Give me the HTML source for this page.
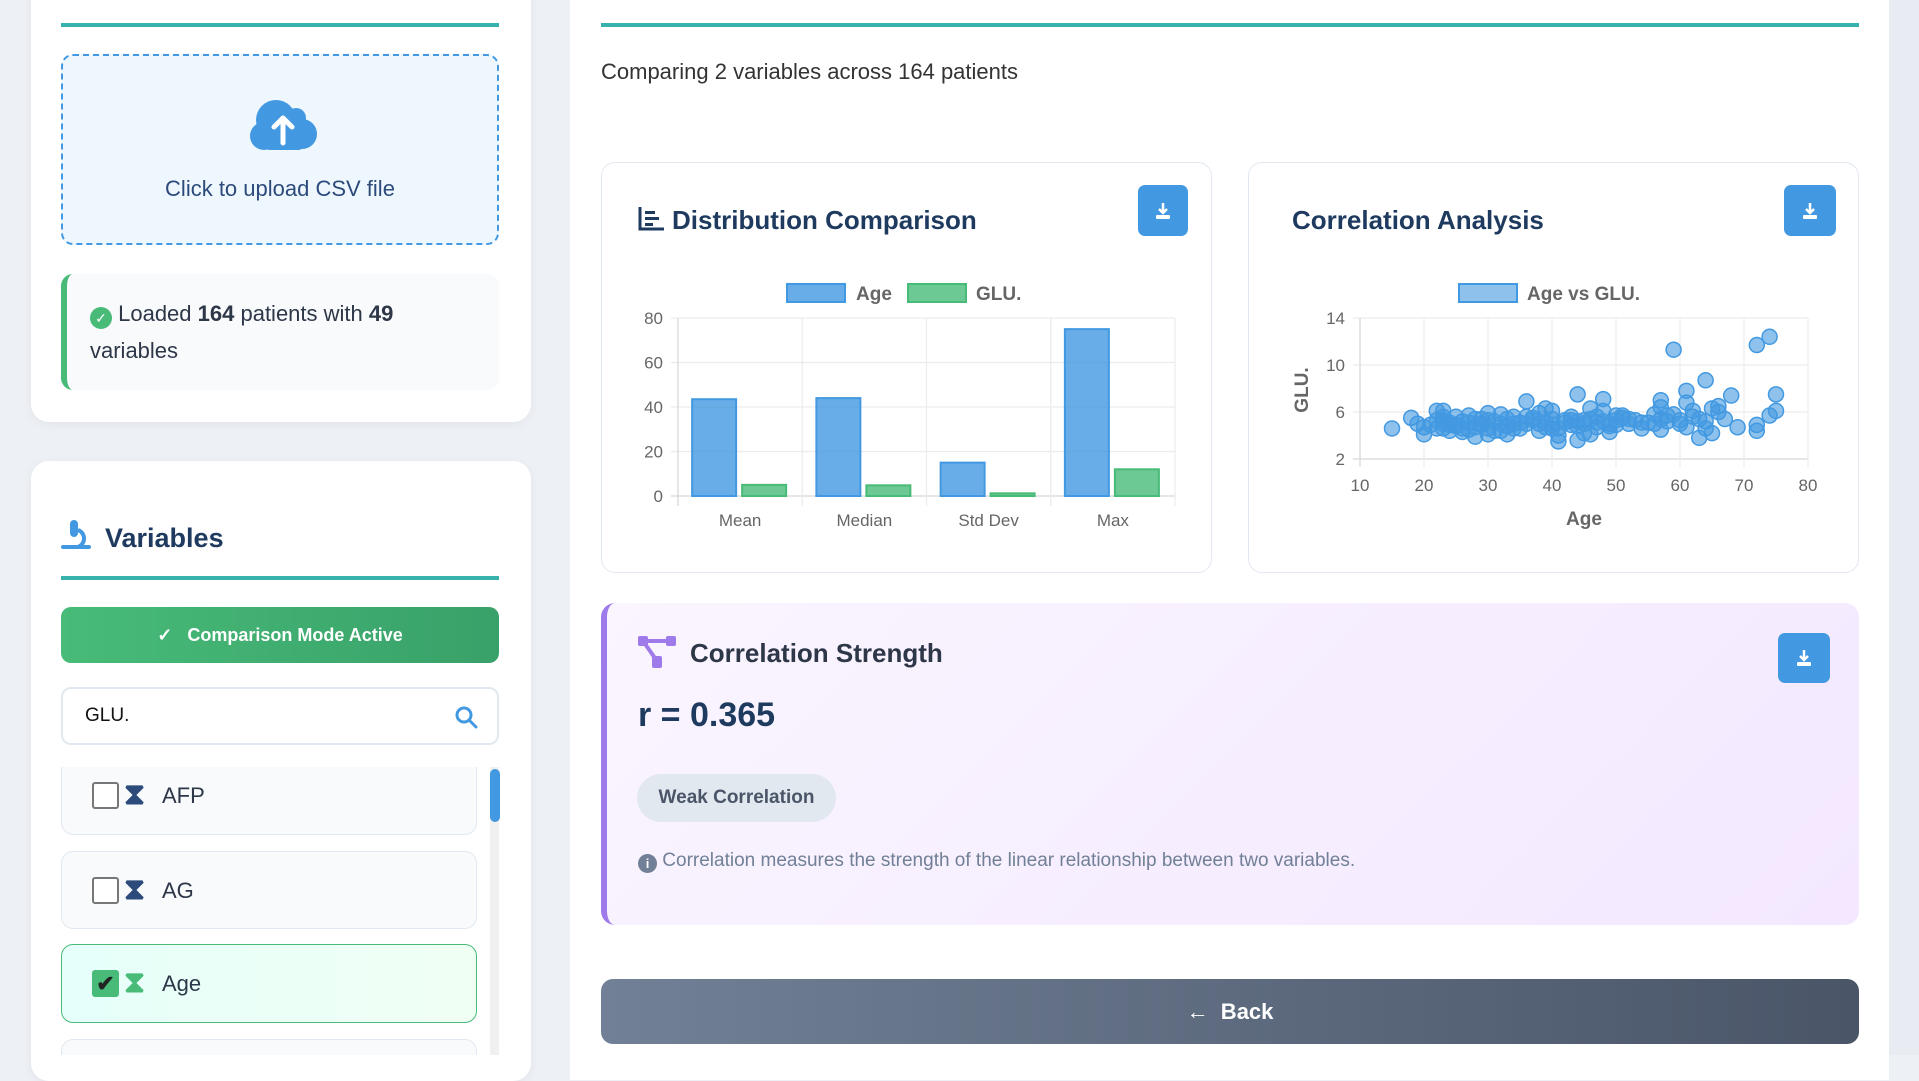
<!DOCTYPE html>
<html><head><meta charset="utf-8"><style>
*{box-sizing:border-box;margin:0;padding:0}
body{width:1919px;height:1055px;overflow:hidden;background:#edf0f5;font-family:"Liberation Sans",sans-serif;position:relative}
.abs{position:absolute}
.card{position:absolute;background:#fff;border-radius:18px;box-shadow:0 2px 10px rgba(0,0,0,0.05)}
.teal{position:absolute;height:4px;background:#38b2ac}
.dl{position:absolute;background:#4299e1;border-radius:7px;display:flex;align-items:center;justify-content:center}
.item{position:absolute;left:61px;width:416px;background:#f8fafc;border:1px solid #e2e8f0;border-radius:12px}
.cb{position:absolute;left:30px;width:27px;height:27px;border:2px solid #777;border-radius:3px;background:#fff}
.lbl{position:absolute;left:100px;font-size:22px;color:#2d3748}
.dna{position:absolute;left:62px;font-size:30px;font-weight:bold;line-height:30px}
</style></head><body>
<div class="card" style="left:31px;top:-20px;width:500px;height:442px"></div>
<div class="teal" style="left:61px;top:23px;width:438px"></div>
<div class="abs" style="left:61px;top:54px;width:438px;height:191px;border:2px dashed #4299e1;border-radius:12px;background:#eef7fe">
 <svg class="abs" style="left:183px;top:40px" width="74" height="60" viewBox="0 0 74 60"><g fill="#4299e1"><circle cx="30" cy="24" r="20"/><circle cx="50" cy="22" r="10"/><circle cx="56" cy="38" r="15"/><circle cx="18" cy="40" r="14"/><rect x="18" y="30" width="40" height="24" rx="6"/></g><path d="M37 47V22M28 31l9-9 9 9" stroke="#fff" stroke-width="5" fill="none" stroke-linecap="round" stroke-linejoin="round"/></svg>
 <div class="abs" style="left:0;width:434px;top:120px;text-align:center;font-size:22px;color:#2c4a7a">Click to upload CSV file</div>
</div>
<div class="abs" style="left:61px;top:274px;width:438px;height:116px;background:#f8fafc;border-left:6px solid #48bb78;border-radius:12px">
 <div class="abs" style="left:23px;top:21px;font-size:22px;line-height:37px;color:#2d3748;width:340px"><span style="display:inline-block;width:22px;height:22px;border-radius:50%;background:#48bb78;color:#fff;font-size:14px;text-align:center;line-height:22px;vertical-align:-2px">✓</span> Loaded <b>164</b> patients with <b>49</b> variables</div>
</div>

<div class="card" style="left:31px;top:461px;width:500px;height:620px"></div>
<svg class="abs" style="left:61px;top:520px" width="30" height="30" viewBox="0 0 30 30"><rect x="9" y="0" width="8" height="17" rx="4" fill="#4299e1"/><path d="M17 10a9 9 0 0 1 0 17" stroke="#4299e1" stroke-width="4" fill="none"/><rect x="0" y="25" width="30" height="4" rx="2" fill="#4299e1"/></svg>
<div class="abs" style="left:105px;top:523px;font-size:27px;font-weight:bold;color:#1e3a5f">Variables</div>
<div class="teal" style="left:61px;top:576px;width:438px"></div>
<div class="abs" style="left:61px;top:607px;width:438px;height:56px;border-radius:10px;background:linear-gradient(90deg,#48bb78,#38a169);color:#fff;font-size:18px;font-weight:bold;text-align:center;line-height:56px">✓&nbsp;&nbsp; Comparison Mode Active</div>
<div class="abs" style="left:61px;top:687px;width:438px;height:58px;border:2px solid #e2e8f0;border-radius:10px;background:#fff">
 <div class="abs" style="left:22px;top:16px;font-size:19px;color:#111">GLU.</div>
 <svg class="abs" style="left:391px;top:16px" width="24" height="24" viewBox="0 0 24 24"><circle cx="10" cy="10" r="7" stroke="#4299e1" stroke-width="3" fill="none"/><path d="M15 15l7 7" stroke="#4299e1" stroke-width="3" stroke-linecap="round"/></svg>
</div>
<div class="abs" style="left:61px;top:767px;width:440px;height:288px;overflow:hidden">
 <div class="item" style="left:0;top:-10px;height:78px"><div class="cb" style="top:24px"></div><div class="dna" style="top:22px;color:#2c4a7a">⧗</div><div class="lbl" style="top:25px">AFP</div></div>
 <div class="item" style="left:0;top:84px;height:78px"><div class="cb" style="top:25px"></div><div class="dna" style="top:23px;color:#2c4a7a">⧗</div><div class="lbl" style="top:26px">AG</div></div>
 <div class="item" style="left:0;top:177px;height:79px;background:linear-gradient(90deg,#e6fffa,#f0fff4);border-color:#48bb78"><div class="cb" style="top:25px;background:#48bb78;border-color:#48bb78;color:#222;font-size:22px;line-height:23px;text-align:center;font-weight:bold">✔</div><div class="dna" style="top:23px;color:#48bb78">⧗</div><div class="lbl" style="top:26px">Age</div></div>
 <div class="item" style="left:0;top:272px;height:78px"></div>
 <div class="abs" style="left:429px;top:0;width:9px;height:288px;background:#f0f0f0"></div>
 <div class="abs" style="left:429px;top:2px;width:10px;height:53px;border-radius:5px;background:#4299e1"></div>
</div>

<div class="abs" style="left:570px;top:-20px;width:1319px;height:1100px;background:#fff"></div>
<div class="teal" style="left:601px;top:23px;width:1258px"></div>
<div class="abs" style="left:601px;top:59px;font-size:22px;color:#333">Comparing 2 variables across 164 patients</div>

<div class="abs" style="left:601px;top:162px;width:611px;height:411px;border:1px solid #e2e8f0;border-radius:14px;background:#fff"></div>
<svg class="abs" style="left:638px;top:207px" width="26" height="24" viewBox="0 0 26 24"><path d="M2 0v22h24" stroke="#1e3a5f" stroke-width="3" fill="none"/><rect x="7" y="4" width="10" height="3" fill="#1e3a5f"/><rect x="7" y="10" width="14" height="3" fill="#1e3a5f"/><rect x="7" y="16" width="8" height="3" fill="#1e3a5f"/></svg>
<div class="abs" style="left:672px;top:205px;font-size:26px;font-weight:bold;color:#1e3a5f">Distribution Comparison</div>
<div class="dl" style="left:1138px;top:185px;width:50px;height:51px"><svg width="20" height="20" viewBox="0 0 20 20"><path d="M10 2v10M6 8l4 4 4-4" stroke="#fff" stroke-width="2.5" fill="none"/><rect x="3" y="14" width="14" height="4" rx="1" fill="#fff"/></svg></div>

<div class="abs" style="left:1248px;top:162px;width:611px;height:411px;border:1px solid #e2e8f0;border-radius:14px;background:#fff"></div>
<div class="abs" style="left:1292px;top:205px;font-size:26px;font-weight:bold;color:#1e3a5f">Correlation Analysis</div>
<div class="dl" style="left:1784px;top:185px;width:52px;height:51px"><svg width="20" height="20" viewBox="0 0 20 20"><path d="M10 2v10M6 8l4 4 4-4" stroke="#fff" stroke-width="2.5" fill="none"/><rect x="3" y="14" width="14" height="4" rx="1" fill="#fff"/></svg></div>

<div class="abs" style="left:601px;top:603px;width:1258px;height:322px;border-left:6px solid #9f7aea;border-radius:14px;background:linear-gradient(135deg,#faf5ff,#f3e8ff)"></div>
<svg class="abs" style="left:638px;top:636px" width="40" height="32" viewBox="0 0 40 32"><rect x="0" y="0" width="10" height="10" rx="2" fill="#9f7aea"/><rect x="28" y="0" width="10" height="10" rx="2" fill="#9f7aea"/><rect x="14" y="20" width="10" height="12" rx="2" fill="#9f7aea"/><path d="M5 5h28M5 5l14 20" stroke="#9f7aea" stroke-width="4" fill="none"/></svg>
<div class="abs" style="left:690px;top:638px;font-size:26px;font-weight:bold;color:#2d3748">Correlation Strength</div>
<div class="dl" style="left:1778px;top:633px;width:52px;height:50px"><svg width="20" height="20" viewBox="0 0 20 20"><path d="M10 2v10M6 8l4 4 4-4" stroke="#fff" stroke-width="2.5" fill="none"/><rect x="3" y="14" width="14" height="4" rx="1" fill="#fff"/></svg></div>
<div class="abs" style="left:638px;top:696px;font-size:34px;font-weight:bold;color:#1e3a5f">r = 0.365</div>
<div class="abs" style="left:637px;top:774px;width:199px;height:48px;border-radius:24px;background:#e2e8f0;color:#4a5568;font-size:19px;font-weight:bold;text-align:center;line-height:48px">Weak Correlation</div>
<div class="abs" style="left:638px;top:850px;font-size:19px;color:#718096"><span style="display:inline-block;width:19px;height:19px;border-radius:50%;background:#718096;color:#fff;font-size:13px;text-align:center;line-height:19px;font-weight:bold;vertical-align:-2px">i</span> Correlation measures the strength of the linear relationship between two variables.</div>

<div class="abs" style="left:601px;top:979px;width:1258px;height:65px;border-radius:12px;background:linear-gradient(90deg,#718096,#4a5568);color:#fff;font-size:22px;font-weight:bold;text-align:center;line-height:65px">←&nbsp; Back</div>
<div class="abs" style="left:1889px;top:0;width:30px;height:1055px;background:#e8ebf2"></div>

<svg id="charts" class="abs" style="left:0;top:0" width="1919" height="1055" font-family="Liberation Sans, sans-serif"></svg>
<script>
const barCategories=["Mean","Median","Std Dev","Max"];
const ageValues=[43.5,44,15,75];
const gluValues=[5,4.8,1.2,12];
const barTicks=[0,20,40,60,80];
const scatterAge=[15,18,19,20,20,21,22,22,23,23,23,24,24,25,25,26,27,27,28,28,29,30,30,30,31,32,32,33,34,34,36,36,36,38,38,39,39,40,40,41,41,42,43,43,44,44,45,45,46,46,47,48,48,49,49,50,51,52,52,54,54,56,56,57,57,57,57,58,59,59,60,61,61,61,62,63,63,64,64,65,65,66,66,67,68,69,72,72,72,74,74,75,75,
22,23,24,25,26,27,28,29,30,31,32,33,34,35,35,37,38,39,40,41,42,43,44,45,46,47,48,49,50,51,53,55,58,60,62,64,23,26,29,33,37,40,44,47,50];
const scatterGlu=[4.6,5.5,5.0,4.1,4.7,4.9,6.1,4.6,6.1,5.6,5.0,4.4,4.9,5.6,4.9,4.3,5.7,5.1,3.9,4.7,4.9,5.9,5.3,4.1,4.4,5.8,5.0,4.1,5.6,4.6,6.9,5.6,5.0,5.9,4.4,6.3,5.1,6.1,4.9,3.5,4.0,5.3,5.6,4.9,7.5,3.6,5.3,4.2,6.3,4.1,5.1,7.1,6.1,4.3,5.0,5.7,5.7,5.0,5.4,4.6,5.1,5.8,5.0,7.0,6.4,5.4,4.5,5.7,11.3,5.8,5.0,7.8,6.8,4.7,6.1,3.8,5.4,8.7,4.6,4.2,6.3,6.5,6.0,5.4,7.4,4.7,11.7,4.9,4.4,12.4,5.7,7.5,6.1,
5.3,4.6,5.1,4.8,5.2,4.5,5.4,5.0,4.6,5.2,4.4,5.4,5.0,5.1,4.6,5.3,5.0,4.7,5.4,4.6,5.1,5.3,4.8,5.0,5.4,4.7,5.2,4.8,5.3,5.5,5.3,5.1,5.2,5.3,5.6,5.2,5.3,4.6,5.4,4.8,5.5,4.6,5.2,5.6,4.9];
const scatterXTicks=[10,20,30,40,50,60,70,80];
const scatterYTicks=[2,6,10,14];

const svg=document.getElementById('charts');
const NS='http://www.w3.org/2000/svg';
function mk(tag,attrs,parent){const e=document.createElementNS(NS,tag);for(const k in attrs)e.setAttribute(k,attrs[k]);(parent||svg).appendChild(e);return e;}

const bL=678,bR=1175,bT=318,bB=496,bMax=80;
const by=v=>bB-(v/bMax)*(bB-bT);
const bw=(bR-bL)/barCategories.length;
barTicks.forEach(t=>{
 const l=mk('line',{x1:bL-7,x2:bR,y1:by(t),y2:by(t),stroke:t===0?'#d6d6d6':'#ececec','stroke-width':1.2});
 
 
 const tx=mk('text',{x:bL-15,y:by(t)+6,'text-anchor':'end','font-size':17,fill:'#666'});tx.textContent=t;
 
 
});
for(let i=0;i<=barCategories.length;i++){
 const x=bL+i*bw;
 const l=mk('line',{x1:x,x2:x,y1:bT,y2:bB+10,stroke:i===0?'#d6d6d6':'#ececec','stroke-width':1.2});
 
 
}
barCategories.forEach((c,i)=>{
 const cx=bL+bw*(i+0.5);
 const a=mk('rect',{x:cx-48,y:by(ageValues[i]),width:44,height:bB-by(ageValues[i]),fill:'rgba(66,153,225,0.8)',stroke:'#4299e1','stroke-width':2});
 
 
 const g=mk('rect',{x:cx+2,y:by(gluValues[i]),width:44,height:bB-by(gluValues[i]),fill:'rgba(72,187,120,0.8)',stroke:'#48bb78','stroke-width':2});
 
 
 const t=mk('text',{x:cx,y:526,'text-anchor':'middle','font-size':17,fill:'#666'});t.textContent=c;
 
 
});
const lg1=mk('rect',{x:787,y:284,width:58,height:18,fill:'rgba(66,153,225,0.8)',stroke:'#4299e1','stroke-width':2});


const lt1=mk('text',{x:856,y:300,'font-size':19,'font-weight':'bold',fill:'#666'});lt1.textContent='Age';


const lg2=mk('rect',{x:908,y:284,width:58,height:18,fill:'rgba(72,187,120,0.8)',stroke:'#48bb78','stroke-width':2});


const lt2=mk('text',{x:976,y:300,'font-size':19,'font-weight':'bold',fill:'#666'});lt2.textContent='GLU.';



const sL=1360,sR=1808,sT=318,sB=459;
const sx=v=>sL+(v-10)/70*(sR-sL);
const sy=v=>sB-(v-2)/12*(sB-sT);
scatterYTicks.forEach(t=>{
 const l=mk('line',{x1:sL-7,x2:sR,y1:sy(t),y2:sy(t),stroke:t===2?'#d6d6d6':'#ececec','stroke-width':1.2});
 
 
 const tx=mk('text',{x:sL-15,y:sy(t)+6,'text-anchor':'end','font-size':17,fill:'#666'});tx.textContent=t;
 
 
});
scatterXTicks.forEach(t=>{
 const l=mk('line',{x1:sx(t),x2:sx(t),y1:sT,y2:sB+8,stroke:t===10?'#d6d6d6':'#ececec','stroke-width':1.2});
 
 
 const tx=mk('text',{x:sx(t),y:491,'text-anchor':'middle','font-size':17,fill:'#666'});tx.textContent=t;
 
 
});
scatterAge.forEach((a,i)=>{
 const c=mk('circle',{cx:sx(a),cy:sy(scatterGlu[i]),r:7.5,fill:'rgba(66,153,225,0.6)',stroke:'#4299e1','stroke-width':1.5});
 
 
});
const xt=mk('text',{x:1584,y:525,'text-anchor':'middle','font-size':19,'font-weight':'bold',fill:'#666'});xt.textContent='Age';


const yt=mk('text',{x:0,y:0,'text-anchor':'middle','font-size':19,'font-weight':'bold',fill:'#666',transform:'translate(1308,390) rotate(-90)'});yt.textContent='GLU.';


const lg3=mk('rect',{x:1459,y:284,width:58,height:18,fill:'rgba(66,153,225,0.6)',stroke:'#4299e1','stroke-width':2});


const lt3=mk('text',{x:1527,y:300,'font-size':19,'font-weight':'bold',fill:'#666'});lt3.textContent='Age vs GLU.';


</script>
</body></html>
